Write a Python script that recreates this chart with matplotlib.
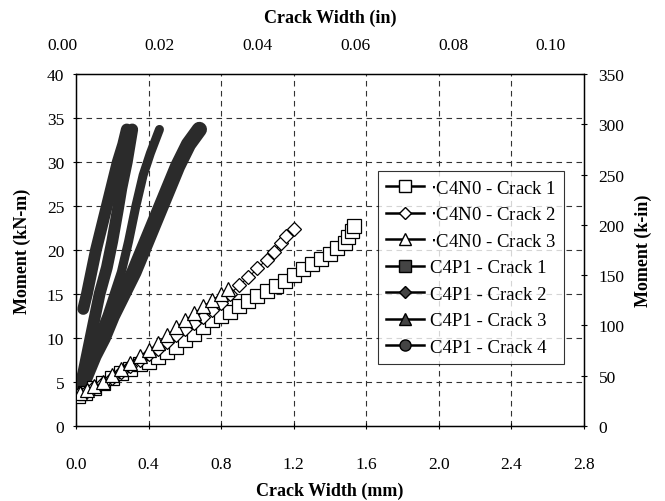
import numpy as np
import matplotlib
matplotlib.use('Agg')
import matplotlib.pyplot as plt
from matplotlib.lines import Line2D

plt.rcParams['font.family'] = ['Liberation Serif', 'DejaVu Serif']

# C4N0 (open markers) - crack width (mm), moment (kN-m)
n0_c1_w = [0.01, 0.05, 0.10, 0.15, 0.20, 0.25, 0.30, 0.35, 0.40, 0.45, 0.50, 0.55,
           0.60, 0.65, 0.70, 0.75, 0.80, 0.85, 0.90, 0.95, 1.00, 1.05, 1.10, 1.15,
           1.20, 1.25, 1.30, 1.35, 1.40, 1.44, 1.48, 1.50, 1.52, 1.53]
n0_c1_m = [3.4, 3.8, 4.3, 4.9, 5.5, 6.0, 6.5, 7.0, 7.3, 7.8, 8.4, 9.0,
           9.8, 10.5, 11.3, 12.0, 12.5, 13.0, 13.6, 14.2, 14.8, 15.3, 15.9, 16.5,
           17.2, 17.8, 18.4, 19.0, 19.6, 20.2, 20.8, 21.5, 22.2, 22.7]
n0_c2_w = [0.02, 0.06, 0.10, 0.15, 0.20, 0.25, 0.30, 0.35, 0.40, 0.45, 0.50, 0.55,
           0.60, 0.65, 0.70, 0.75, 0.80, 0.85, 0.90, 0.95, 1.00, 1.05, 1.09, 1.13,
           1.16, 1.20]
n0_c2_m = [3.7, 4.0, 4.4, 4.9, 5.4, 6.1, 6.8, 7.5, 8.2, 8.8, 9.5, 10.3,
           11.0, 11.7, 12.4, 13.2, 14.0, 15.0, 16.0, 16.9, 17.9, 18.9, 19.8, 20.8,
           21.6, 22.4]
n0_c3_w = [0.02, 0.06, 0.10, 0.15, 0.20, 0.25, 0.30, 0.35, 0.40, 0.45, 0.50, 0.55,
           0.60, 0.65, 0.70, 0.75, 0.80, 0.84]
n0_c3_m = [3.8, 4.1, 4.5, 5.0, 5.8, 6.5, 7.2, 7.9, 8.6, 9.4, 10.3, 11.2,
           12.0, 12.8, 13.6, 14.3, 15.0, 15.6]

# C4P1 (filled markers)
p1_c1_w = [0.02, 0.04, 0.07, 0.10, 0.13, 0.17, 0.20, 0.23, 0.25, 0.28, 0.31]
p1_c1_m = [4.5, 6.0, 9.0, 12.0, 15.0, 18.0, 21.0, 24.5, 27.0, 30.0, 33.7]
p1_c2_w = [0.03, 0.07, 0.12, 0.17, 0.21, 0.25, 0.29, 0.33, 0.37, 0.41, 0.46]
p1_c2_m = [4.5, 7.0, 10.0, 12.5, 15.0, 17.5, 21.0, 25.0, 28.5, 31.0, 33.7]
p1_c3_w = [0.02, 0.06, 0.10, 0.15, 0.20, 0.26, 0.32, 0.38, 0.44, 0.50, 0.56, 0.62, 0.68]
p1_c3_m = [4.0, 6.0, 8.0, 10.0, 12.5, 15.0, 17.5, 20.5, 23.5, 26.5, 29.5, 32.0, 33.7]
p1_c4_w = [0.04, 0.06, 0.08, 0.11, 0.14, 0.17, 0.20, 0.23, 0.26, 0.28]
p1_c4_m = [13.3, 15.0, 17.0, 20.0, 22.5, 25.0, 27.5, 30.0, 32.0, 33.7]

top_ticks_in = [0.00, 0.02, 0.04, 0.06, 0.08, 0.10]

W, H = 665, 502
fig = plt.figure(figsize=(W / 100, H / 100), dpi=100)
L, R, T, B = 76, 584, 75, 427
ax = fig.add_axes([L / W, 1 - B / H, (R - L) / W, (B - T) / H])

ax.set_xlim(0, 2.8)
ax.set_ylim(0, 40)
ax.set_xticks(np.arange(0, 2.81, 0.4))
ax.set_yticks(np.arange(0, 41, 5))
ax.xaxis.set_major_formatter(matplotlib.ticker.FormatStrFormatter('%.1f'))

grid_kw = dict(color='#333333', lw=0.8, dashes=(5, 4))
for gx in np.arange(0.4, 2.5, 0.4):
    ax.axvline(gx, **grid_kw, zorder=1)
for gy in np.arange(5, 36, 5):
    ax.axhline(gy, **grid_kw, zorder=1)

band = '#2b2b2b'
p1 = [(p1_c1_w, p1_c1_m), (p1_c2_w, p1_c2_m), (p1_c3_w, p1_c3_m), (p1_c4_w, p1_c4_m)]
widths = [8.5, 6.5, 11, 8.5]
for (w, m), lw in zip(p1, widths):
    ax.plot(w, m, color=band, lw=lw, solid_capstyle='round',
            solid_joinstyle='round', zorder=3)

n0 = [(n0_c1_w, n0_c1_m, 's', 9.5),
      (n0_c2_w, n0_c2_m, 'D', 7.5),
      (n0_c3_w, n0_c3_m, '^', 9.5)]
for w, m, mk, ms in n0:
    ax.plot(w, m, color='black', lw=0.8, marker=mk, ms=ms, mfc='white',
            mec='black', mew=0.9, zorder=4)

for s in ax.spines.values():
    s.set_linewidth(1.0)
ax.tick_params(direction='inout', length=5, width=0.8, labelsize=12.5)
ax.tick_params(axis='x', pad=19)
ax.tick_params(axis='y', pad=6)

ax2 = ax.twinx()
ax2.set_ylim(0, 350)
ax2.set_yticks(np.arange(0, 351, 50))
ax2.tick_params(direction='inout', length=5, width=0.8, labelsize=12.5, pad=8)

# top inch scale labels
TL, TR = 50, 600
ax_top = fig.add_axes([TL / W, 1 - T / H, (TR - TL) / W, 1e-4])
ax_top.set_xlim((TL - 62) / 4890, (TR - 62) / 4890)
ax_top.set_xticks(top_ticks_in)
ax_top.xaxis.set_major_formatter(matplotlib.ticker.FormatStrFormatter('%.2f'))
ax_top.xaxis.tick_top()
ax_top.tick_params(axis='x', length=0, labelsize=12.5, pad=15)
ax_top.set_yticks([])
for s in ax_top.spines.values():
    s.set_visible(False)
ax_top.patch.set_visible(False)

fig.text(330 / W, 1 - 18 / H, 'Crack Width (in)', ha='center', va='center',
         fontsize=13, fontweight='bold')
fig.text(330 / W, 1 - 491 / H, 'Crack Width (mm)', ha='center', va='center',
         fontsize=13, fontweight='bold')
fig.text(22 / W, 1 - 251 / H, 'Moment (kN-m)', ha='center', va='center',
         rotation=90, fontsize=13, fontweight='bold')
fig.text(643 / W, 1 - 251 / H, 'Moment (k-in)', ha='center', va='center',
         rotation=90, fontsize=13, fontweight='bold')

handles = [
    Line2D([], [], color='black', lw=1.8, marker='s', ms=8, mfc='white', mec='black', label='$\\cdot$C4N0 - Crack 1'),
    Line2D([], [], color='black', lw=1.8, marker='D', ms=6, mfc='white', mec='black', label='$\\cdot$C4N0 - Crack 2'),
    Line2D([], [], color='black', lw=1.8, marker='^', ms=8, mfc='white', mec='black', label='$\\cdot$C4N0 - Crack 3'),
    Line2D([], [], color='black', lw=1.8, marker='s', ms=8, mfc='#444444', mec='black', label='C4P1 - Crack 1'),
    Line2D([], [], color='black', lw=1.8, marker='D', ms=6, mfc='#444444', mec='black', label='C4P1 - Crack 2'),
    Line2D([], [], color='black', lw=1.8, marker='^', ms=8, mfc='#444444', mec='black', label='C4P1 - Crack 3'),
    Line2D([], [], color='black', lw=1.8, marker='o', ms=8, mfc='#444444', mec='black', label='C4P1 - Crack 4'),
]
leg = ax.legend(handles=handles, loc='upper left',
                bbox_to_anchor=((378 - L) / (R - L), (B - 172) / (B - T)),
                borderaxespad=0, fontsize=13.5, frameon=True, fancybox=False,
                handlelength=2.0, handletextpad=0.3, labelspacing=0.5,
                borderpad=0.45)
leg.get_frame().set_edgecolor('black')
leg.get_frame().set_linewidth(0.8)
leg.set_zorder(10)

fig.savefig('out.png', dpi=100)
